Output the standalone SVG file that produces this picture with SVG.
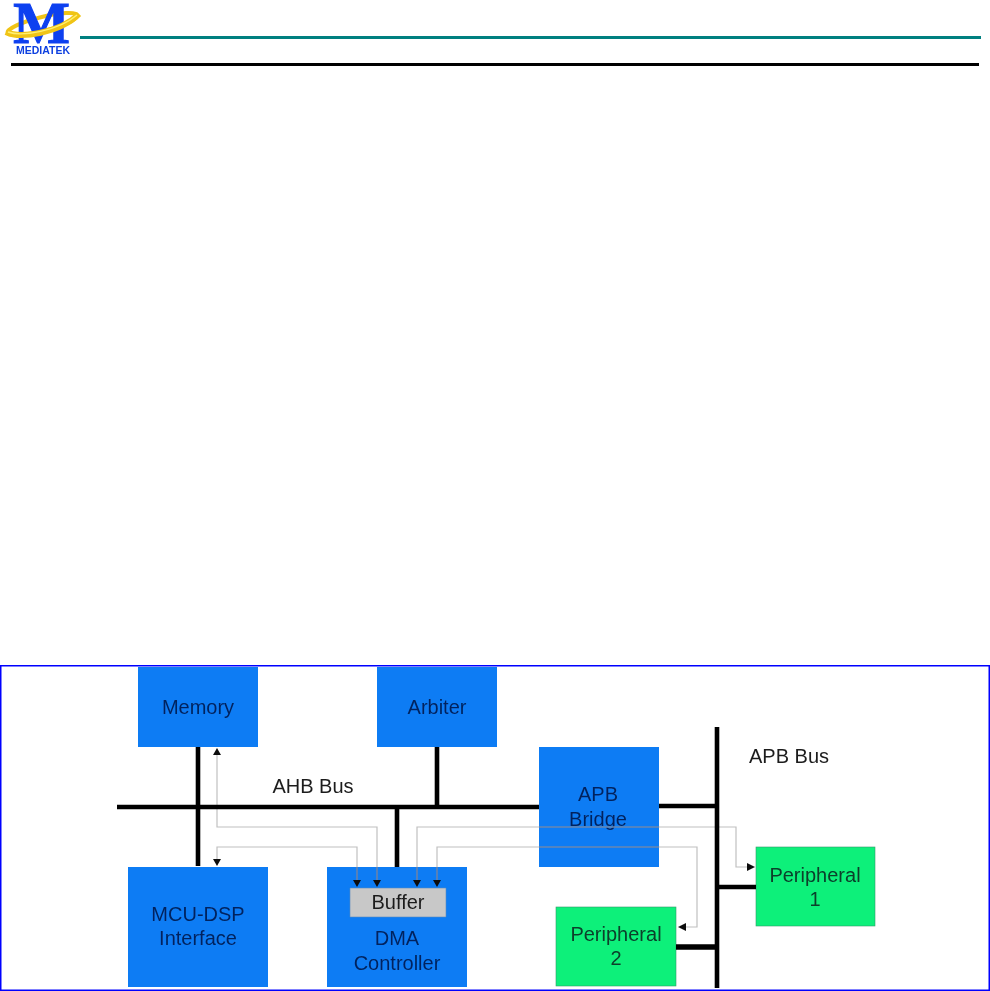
<svg xmlns="http://www.w3.org/2000/svg" width="990" height="991" viewBox="0 0 990 991">
<style>
text{font-family:"Liberation Sans",Arial,sans-serif;text-anchor:middle;font-size:20px}
.b{fill:#0a7cf4}
.bt{fill:#06245f}
.g{fill:#0cf07a;stroke:#3a9a6a;stroke-width:.6}
.gt{fill:#07402c}
.bus{stroke:#000;stroke-width:4.6;fill:none;stroke-linecap:butt}
.sig{stroke:#c0c0c0;stroke-width:1.2;fill:none}
.sigd{stroke:#3f6aa8;stroke-width:1.2;fill:none}
.lab{fill:#1c1c1c}
.ring{fill:none;stroke:#f0c418}
</style>
<defs>
<filter id="soft" x="-2%" y="-2%" width="104%" height="104%"><feGaussianBlur stdDeviation="0.55"/></filter>
</defs>
<rect width="990" height="991" fill="#fff"/>
<g id="header">
<rect x="80" y="36" width="901" height="3" fill="#008080"/>
<rect x="11" y="63" width="968" height="3" fill="#000"/>
<g filter="url(#soft)">
<ellipse class="ring" cx="42.500" cy="24" rx="36" ry="7" transform="rotate(-14 42.500 24)" stroke-width="4"/>
<text x="41.500" y="43" style="font-family:'Liberation Serif',serif;font-weight:bold;font-size:60px;fill:#1040f0;stroke:#1040f0;stroke-width:1.200">M</text>
<path class="ring" d="M6 32C20 39 60 33 79 14" stroke-width="6"/>
<path d="M8 32C22 37 58 31 77 15" fill="none" stroke="#fff070" stroke-width="1.500"/>
<text x="43" y="54" style="font-weight:bold;font-size:10.500px;fill:#1040e0">MEDIATEK</text>
</g>
</g>
<rect id="frame" x="0.750" y="665.750" width="988.500" height="324.500" fill="#fff" stroke="#0000ff" stroke-width="1.500"/>
<g filter="url(#soft)">
<g id="memory"><rect class="b" x="138" y="667" width="120" height="80"/><text class="bt" x="198" y="714">Memory</text></g>
<g id="arbiter"><rect class="b" x="377" y="667" width="120" height="80"/><text class="bt" x="437" y="714">Arbiter</text></g>
<g id="apb-bridge"><rect class="b" x="539" y="747" width="120" height="120"/><text class="bt" x="598" y="801">APB</text><text class="bt" x="598" y="826">Bridge</text></g>
<g id="mcu-dsp"><rect class="b" x="128" y="867" width="140" height="120"/><text class="bt" x="198" y="921">MCU-DSP</text><text class="bt" x="198" y="945">Interface</text></g>
<g id="dma"><rect class="b" x="327" y="867" width="140" height="120"/><text class="bt" x="397" y="945">DMA</text><text class="bt" x="397" y="970">Controller</text></g>
<g id="buffer"><rect x="350" y="888" width="96" height="29" fill="#c8c8c8" stroke="#5a8ac0" stroke-width=".6"/><text class="lab" x="398" y="909">Buffer</text></g>
<g id="peripheral1"><rect class="g" x="756" y="847" width="119" height="79"/><text class="gt" x="815" y="882">Peripheral</text><text class="gt" x="815" y="906">1</text></g>
<g id="peripheral2"><rect class="g" x="556" y="907" width="120" height="79"/><text class="gt" x="616" y="941">Peripheral</text><text class="gt" x="616" y="965">2</text></g>
<g id="connectors">
<path class="sig" d="M217 752V827H377V880M217 862V847H357V880M417 880V827H736V867H750M437 880V847H697V927H682"/>
<path class="sigd" d="M539 827H659M539 847H659M357 867V880M377 867V880M417 867V880M437 867V880"/>
<path class="bus" d="M117 807H539M198 747V866M437 747V807M397 807V867M659 806H716M717 727V988M718 887H756"/>
<path class="bus" d="M676 947H716" style="stroke-width:5.500"/>
<path d="M217 748l-4 7h8zM217 866l-4-7h8zM357 887l-4-7h8zM377 887l-4-7h8zM417 887l-4-7h8zM437 887l-4-7h8zM755 867l-8-4v8zM678 927l8-4v8z" fill="#111"/>
</g>
<text class="lab" x="313" y="793">AHB Bus</text>
<text class="lab" x="789" y="763">APB Bus</text>
</g>
</svg>
